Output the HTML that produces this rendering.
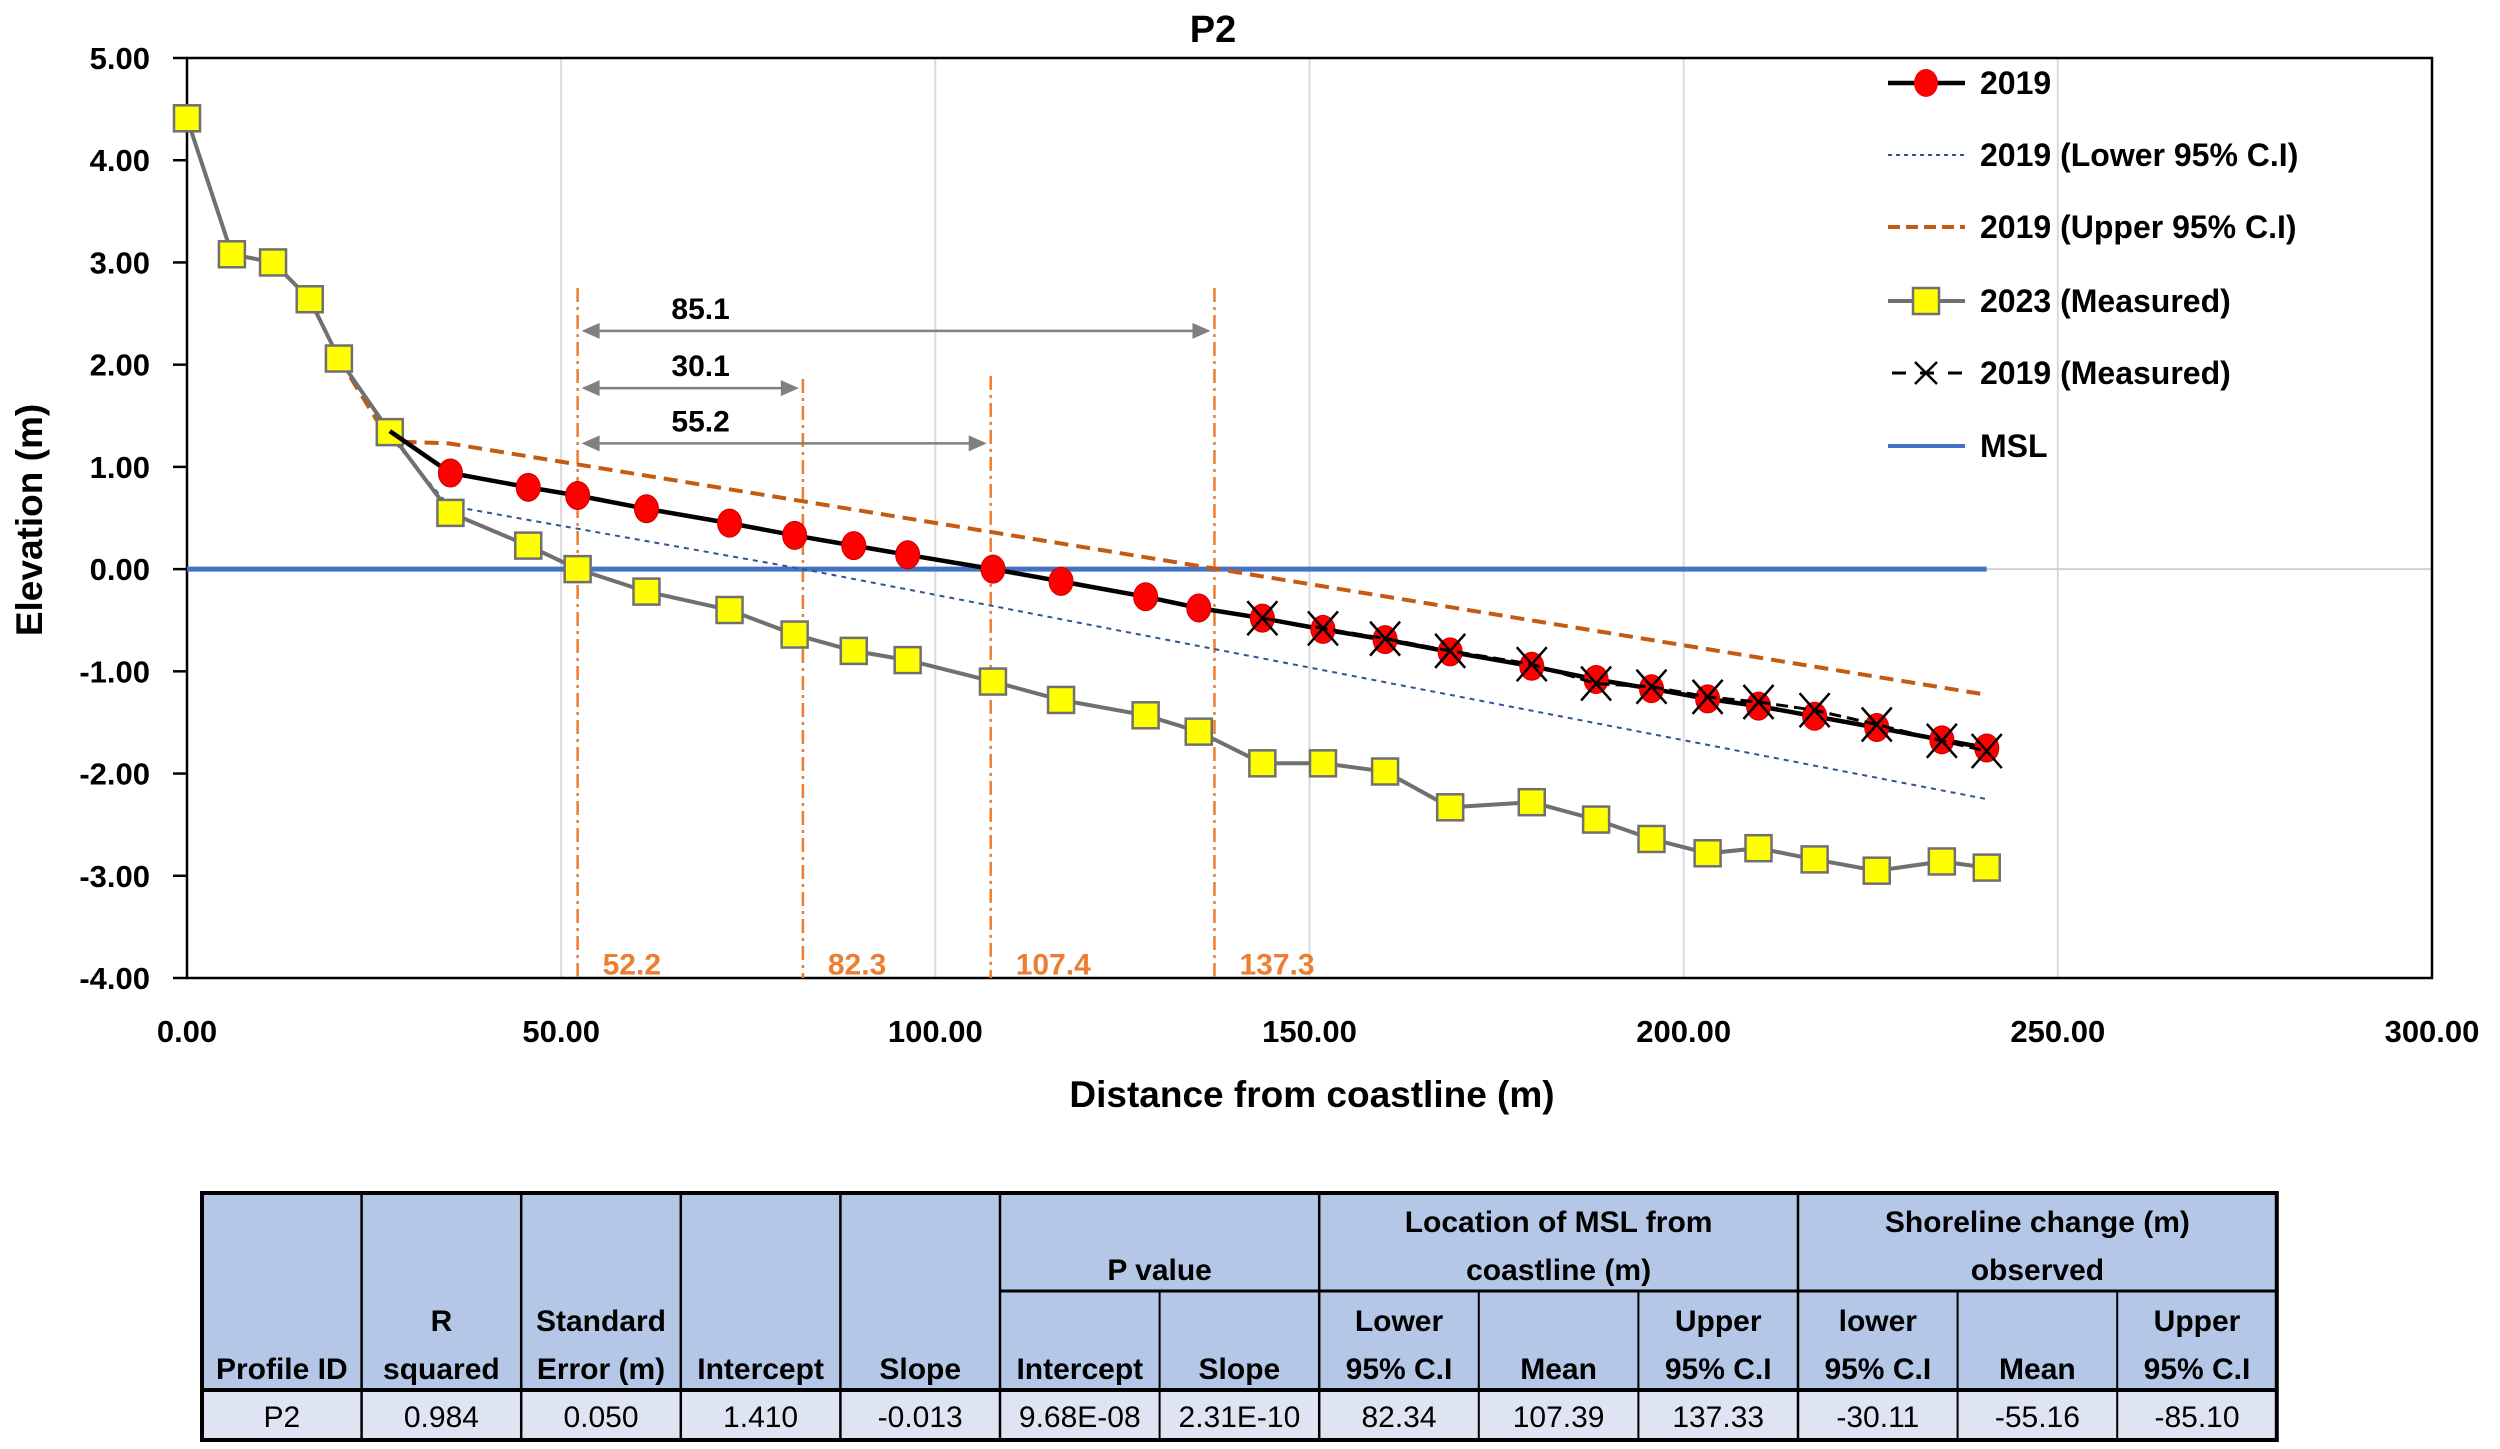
<!DOCTYPE html>
<html><head><meta charset="utf-8"><style>
html,body{margin:0;padding:0;background:#fff;}
svg{display:block;font-family:"Liberation Sans",sans-serif;}
</style></head><body>
<svg id="chart" width="2500" height="1449" viewBox="0 0 2500 1449"></svg>
<script>
const xTicks=[0,50,100,150,200,250,300];
const yTicks=[5,4,3,2,1,0,-1,-2,-3,-4];
const red2019=[[27.1,1.35],[35.2,0.94],[45.6,0.80],[52.2,0.72],[61.4,0.59],[72.5,0.45],[81.2,0.33],[89.1,0.23],[96.3,0.14],[107.7,0],[116.8,-0.12],[128.1,-0.27],[135.2,-0.38],[143.7,-0.48],[151.8,-0.59],[160.1,-0.69],[168.8,-0.81],[179.7,-0.95],[188.3,-1.08],[195.7,-1.17],[203.2,-1.27],[210.0,-1.34],[217.5,-1.44],[225.8,-1.55],[234.5,-1.67],[240.5,-1.75]];
const meas2023=[[0,4.41],[6,3.08],[11.5,3.00],[16.4,2.64],[20.3,2.06],[27.1,1.34],[35.2,0.55],[45.6,0.23],[52.2,0],[61.4,-0.22],[72.5,-0.40],[81.2,-0.64],[89.1,-0.80],[96.3,-0.89],[107.7,-1.10],[116.8,-1.28],[128.1,-1.43],[135.2,-1.59],[143.7,-1.90],[151.8,-1.90],[160.1,-1.98],[168.8,-2.33],[179.7,-2.28],[188.3,-2.45],[195.7,-2.64],[203.2,-2.78],[210.0,-2.73],[217.5,-2.84],[225.8,-2.95],[234.5,-2.86],[240.5,-2.92]];
const meas2019=[[143.7,-0.48],[151.8,-0.58],[160.1,-0.68],[168.8,-0.80],[179.7,-0.93],[188.3,-1.12],[195.7,-1.15],[203.2,-1.25],[210.0,-1.30],[217.5,-1.38],[225.8,-1.52],[234.5,-1.68],[240.5,-1.78]];
const upperCI=[[20.3,2.06],[27.1,1.25],[35,1.23],[240.5,-1.23]];
const lowerCI=[[27.1,1.30],[35,0.62],[82.3,0],[240.5,-2.25]];
const mslLine=[[0,0],[240.5,0]];
const markerX=[52.2,82.3,107.4,137.3];
const markerTop=[2.75,1.86,1.89,2.75];
const markerLabels=["52.2","82.3","107.4","137.3"];
const arrowStart=[52.2,52.2,52.2];
const arrowEnd=[137.3,82.3,107.4];
const arrowY=[2.33,1.77,1.23];
const arrowLabels=["85.1","30.1","55.2"];

const X0=187,X1=2432,Y0=58,Y1=978;
const xs=v=>X0+(v-0)/300*(X1-X0);
const ys=v=>Y0+(5-v)/9*(Y1-Y0);
const svg=document.getElementById('chart');
const NS='http://www.w3.org/2000/svg';
function mk(tag,attrs,parent){const e=document.createElementNS(NS,tag);for(const k in attrs)e.setAttribute(k,attrs[k]);(parent||svg).appendChild(e);return e;}
function txt(s,attrs,parent){const e=mk('text',attrs,parent);e.textContent=s;return e;}
const pts=a=>a.map(p=>xs(p[0]).toFixed(1)+','+ys(p[1]).toFixed(1)).join(' ');

xTicks.forEach(t=>{if(t>0&&t<300){const g=mk('line',{x1:xs(t),x2:xs(t),y1:Y0,y2:Y1,stroke:'#d9d9d9','stroke-width':2});

}});
const hz=mk('line',{x1:X0,x2:X1,y1:ys(0),y2:ys(0),stroke:'#d0d0d0','stroke-width':2});


const fr=mk('rect',{x:X0,y:Y0,width:X1-X0,height:Y1-Y0,fill:'none',stroke:'#000','stroke-width':2.5});


yTicks.forEach(t=>{const l=mk('line',{x1:X0-14,x2:X0,y1:ys(t),y2:ys(t),stroke:'#000','stroke-width':2.5});


const tl=txt(t.toFixed(2),{x:150,y:ys(t)+11,'text-anchor':'end','font-size':31,'font-weight':'bold'});

});
xTicks.forEach(t=>{const tl=txt(t.toFixed(2),{x:xs(t),y:1042,'text-anchor':'middle','font-size':31,'font-weight':'bold'});

});
const tt=txt('P2',{x:1213,y:42,'text-anchor':'middle','font-size':38,'font-weight':'bold'});


const xt=txt('Distance from coastline (m)',{x:1312,y:1107,'text-anchor':'middle','font-size':37,'font-weight':'bold'});


const yt=txt('Elevation (m)',{x:0,y:0,'text-anchor':'middle','font-size':37,'font-weight':'bold',transform:'translate(42,520) rotate(-90)'});



markerX.forEach((m,i)=>{const l=mk('line',{x1:xs(m),x2:xs(m),y1:ys(markerTop[i]),y2:Y1,stroke:'#ED7D31','stroke-width':2.5,'stroke-dasharray':'14,5,3,5'});


const t=txt(markerLabels[i],{x:xs(m)+25,y:ys(-3.86)+11,'font-size':30,'font-weight':'bold',fill:'#ED7D31'});

});
arrowStart.forEach((s,i)=>{const a=xs(s)+4,b=xs(arrowEnd[i])-4,y=ys(arrowY[i]);
const g=mk('g',{});


mk('line',{x1:a+14,x2:b-14,y1:y,y2:y,stroke:'#808080','stroke-width':2.5},g);
mk('polygon',{points:`${a},${y} ${a+18},${y-8} ${a+18},${y+8}`,fill:'#808080'},g);
mk('polygon',{points:`${b},${y} ${b-18},${y-8} ${b-18},${y+8}`,fill:'#808080'},g);
const t=txt(arrowLabels[i],{x:xs(s)+123,y:y-12,'text-anchor':'middle','font-size':30,'font-weight':'bold'});

});

const msl=mk('polyline',{points:pts(mslLine),fill:'none',stroke:'#4472C4','stroke-width':5});


const up=mk('polyline',{points:pts(upperCI),fill:'none',stroke:'#C55A11','stroke-width':4,'stroke-dasharray':'14,8'});


const lo=mk('polyline',{points:pts(lowerCI),fill:'none',stroke:'#2F5597','stroke-width':2,'stroke-dasharray':'5,5'});


const l23=mk('polyline',{points:pts(meas2023),fill:'none',stroke:'#707070','stroke-width':4});


meas2023.forEach(p=>{const r=mk('rect',{x:xs(p[0])-13,y:ys(p[1])-13,width:26,height:26,fill:'#FFFF00',stroke:'#707070','stroke-width':2.5});

});
const l19=mk('polyline',{points:pts(red2019),fill:'none',stroke:'#000','stroke-width':4.5});


red2019.slice(1).forEach(p=>{const c=mk('ellipse',{cx:xs(p[0]),cy:ys(p[1]),rx:12,ry:14,fill:'#FF0000',stroke:'#c00','stroke-width':1});

});
const lm=mk('polyline',{points:pts(meas2019),fill:'none',stroke:'#000','stroke-width':3,'stroke-dasharray':'12,6'});


meas2019.forEach(p=>{const x=xs(p[0]),y=ys(p[1]);const g=mk('g',{stroke:'#000','stroke-width':2.5});


mk('line',{x1:x-15,y1:y-17,x2:x+15,y2:y+17},g);mk('line',{x1:x-15,y1:y+17,x2:x+15,y2:y-17},g);});

const legY=[83,155,227,301,373,446];
const legT=['2019','2019 (Lower 95% C.I)','2019 (Upper 95% C.I)','2023 (Measured)','2019 (Measured)','MSL'];
legY.forEach((y,i)=>{const g=mk('g',{});


const L=1888,R=1965,M=1926;
if(i==0){mk('line',{x1:L,x2:R,y1:y,y2:y,stroke:'#000','stroke-width':4.5},g);mk('ellipse',{cx:M,cy:y,rx:12,ry:14,fill:'#f00'},g);}
if(i==1)mk('line',{x1:L,x2:R,y1:y,y2:y,stroke:'#2F5597','stroke-width':2,'stroke-dasharray':'4,4'},g);
if(i==2)mk('line',{x1:L,x2:R,y1:y,y2:y,stroke:'#C55A11','stroke-width':4,'stroke-dasharray':'12,6'},g);
if(i==3){mk('line',{x1:L,x2:R,y1:y,y2:y,stroke:'#707070','stroke-width':4},g);mk('rect',{x:M-13,y:y-13,width:26,height:26,fill:'#ff0',stroke:'#707070','stroke-width':2.5},g);}
if(i==4){mk('line',{x1:L,x2:R,y1:y,y2:y,stroke:'#000','stroke-width':3,'stroke-dasharray':'14,14','stroke-dashoffset':'-4'},g);mk('line',{x1:M-11,y1:y-11,x2:M+11,y2:y+11,stroke:'#000','stroke-width':2.5},g);mk('line',{x1:M-11,y1:y+11,x2:M+11,y2:y-11,stroke:'#000','stroke-width':2.5},g);}
if(i==5)mk('line',{x1:L,x2:R,y1:y,y2:y,stroke:'#4472C4','stroke-width':4},g);
txt(legT[i],{x:1980,y:y+11,'font-size':32,'font-weight':'bold'},g);});

const TX=202,CW=159.6,R0=1193,R1=1291,R2=1390,R3=1440;
const tb=mk('g',{});


mk('rect',{x:TX,y:R0,width:CW*13,height:R2-R0,fill:'#B4C7E7'},tb);
mk('rect',{x:TX,y:R2,width:CW*13,height:R3-R2,fill:'#DEE4F2'},tb);
const cx=i=>TX+CW*i;
const ln=(x1,y1,x2,y2,w)=>mk('line',{x1,y1,x2,y2,stroke:'#000','stroke-width':w||2},tb);
for(let i=1;i<13;i++){const full=[1,2,3,4,5,7,10].includes(i);ln(cx(i),full?R0:R1,cx(i),R3,full||i==5?2.5:2);}
ln(cx(5),R1,cx(13),R1,3);ln(TX,R2,cx(13),R2,4);
mk('rect',{x:TX,y:R0,width:CW*13,height:R3-R0,fill:'none',stroke:'#000','stroke-width':4},tb);
const hs={'font-size':30,'font-weight':'bold','text-anchor':'middle'};
const T=(s,x,y,st)=>{const e=txt(s,Object.assign({x,y},st),tb);return e;};
const h2=[['','Profile ID'],['R','squared'],['Standard','Error (m)'],['','Intercept'],['','Slope'],['','Intercept'],['','Slope'],['Lower','95% C.I'],['','Mean'],['Upper','95% C.I'],['lower','95% C.I'],['','Mean'],['Upper','95% C.I']];
h2.forEach((h,i)=>{const m=cx(i)+CW/2;if(h[0])T(h[0],m,1331,hs);T(h[1],m,1379,hs);});
T('P value',cx(6),1280,hs);
T('Location of MSL from',cx(8.5),1232,hs);T('coastline (m)',cx(8.5),1280,hs);
T('Shoreline change (m)',cx(11.5),1232,hs);T('observed',cx(11.5),1280,hs);
const vals=['P2','0.984','0.050','1.410','-0.013','9.68E-08','2.31E-10','82.34','107.39','137.33','-30.11','-55.16','-85.10'];
vals.forEach((v,i)=>T(v,cx(i)+CW/2,1427,{'font-size':30,'text-anchor':'middle'}));
</script>
</body></html>
